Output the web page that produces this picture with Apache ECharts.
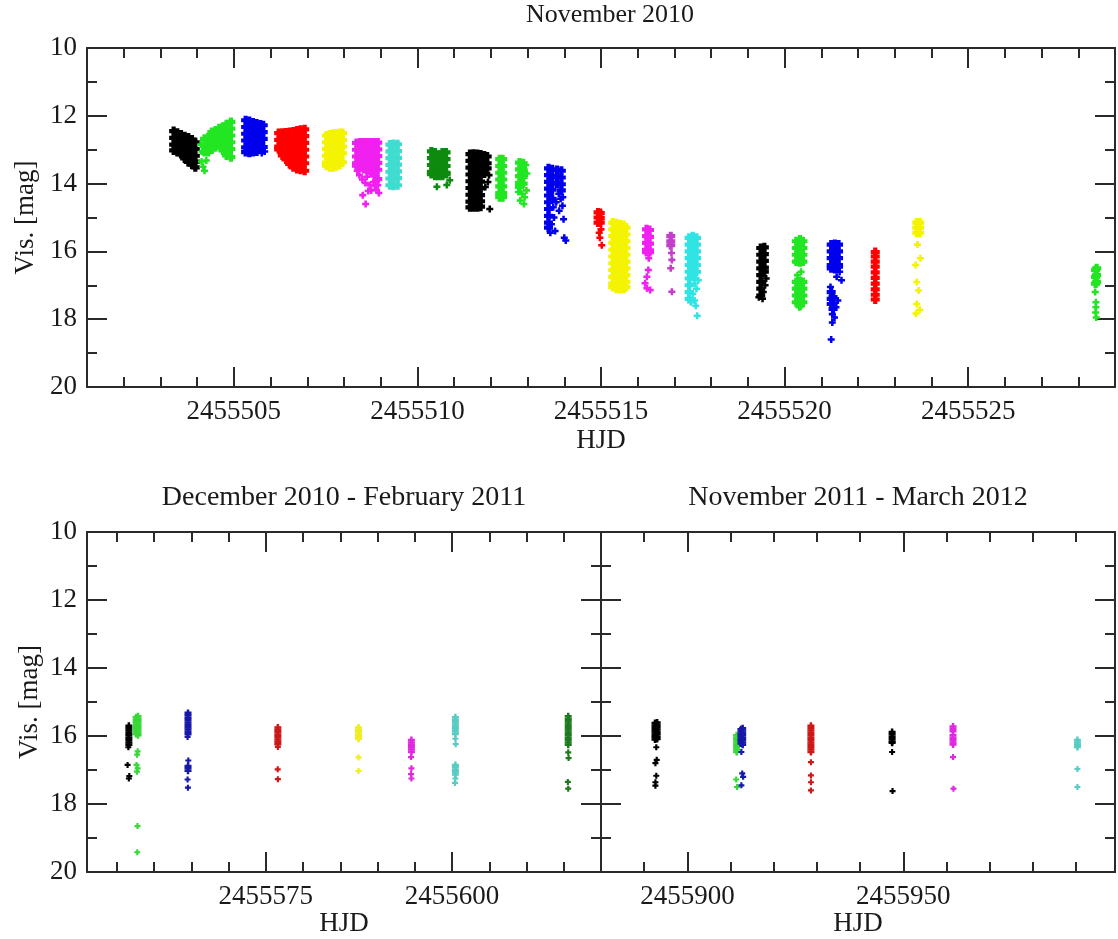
<!DOCTYPE html>
<html><head><meta charset="utf-8">
<script src="https://cdn.jsdelivr.net/npm/echarts@6/dist/echarts.min.js"></script>
<style>html,body{margin:0;padding:0;background:#fff}#c{width:1118px;height:939px}</style>
</head><body><div id="c"></div>
<script>
// ---------------- data (HJD offsets from 2455500, magnitudes) ----------------
const HJD0 = 2455500;
const novRange = [2455501, 2455529];
const decRange = [2455551, 2455620];
const n11Range = [2455880, 2455999];
const magRange = [10, 20];
const novMajor = [2455505, 2455510, 2455515, 2455520, 2455525];
const novMinor = [2455502,2455503,2455504,2455506,2455507,2455508,2455509,2455511,2455512,2455513,2455514,2455516,2455517,2455518,2455519,2455521,2455522,2455523,2455524,2455526,2455527,2455528];
const decMajor = [2455575, 2455600];
const decMinor = [2455555,2455560,2455565,2455570,2455580,2455585,2455590,2455595,2455605,2455610,2455615];
const n11Major = [2455900, 2455950];
const n11Minor = [2455890,2455910,2455920,2455930,2455940,2455960,2455970,2455980,2455990];
const magMajor = [10, 12, 14, 16, 18, 20];
const magMinor = [11, 13, 15, 17, 19];

// November 2010: columns [t, mag, mag, ...]  and single points [t, mag]
const nov_k1 = [[3.36,12.45,12.65,12.85,13.02],[3.46,12.5,12.7,12.9,13.07],[3.56,12.55,12.75,12.95,13.13],[3.66,12.6,12.8,13.0,13.15,13.26],[3.76,12.64,12.84,13.04,13.2,13.36],[3.86,12.7,12.9,13.1,13.28,13.44],[3.95,12.78,12.98,13.18,13.35,13.52]];
const nov_g1 = [[4.20,12.68,12.88,13.07],[4.30,12.63,12.83,13.07],[4.40,12.48,12.68,12.84,12.99],[4.50,12.43,12.63,12.8,12.92],[4.60,12.37,12.57,12.72,12.87],[4.70,12.33,12.53,12.73,12.9,13.02],[4.80,12.25,12.45,12.65,12.85,13.02,13.17],[4.92,12.18,12.38,12.58,12.78,12.98,13.22]];
const nov_g1_o = [[4.12,13.35],[4.16,13.5],[4.2,13.62],[4.1,12.85],[4.25,13.32],[4.13,13.05]];
const nov_b1 = [[5.32,12.13,12.33,12.53,12.73,12.93,13.07],[5.42,12.15,12.35,12.55,12.75,12.95,13.09],[5.52,12.2,12.4,12.6,12.8,13.0,13.07],[5.62,12.23,12.43,12.63,12.83,13.05],[5.72,12.26,12.46,12.66,12.86,12.99],[5.80,12.28,12.48,12.68,12.92]];
const nov_b1_o = [[5.84,13.05],[5.76,13.1]];
const nov_r1 = [[6.22,12.51,12.71,12.91,12.99],[6.32,12.5,12.7,12.9,13.1,13.17],[6.42,12.49,12.69,12.89,13.09,13.29],[6.52,12.48,12.68,12.88,13.08,13.28,13.42],[6.62,12.46,12.66,12.86,13.06,13.26,13.52],[6.72,12.43,12.63,12.83,13.03,13.23,13.43,13.57],[6.82,12.41,12.61,12.81,13.01,13.21,13.41,13.59],[6.93,12.4,12.6,12.8,13.0,13.2,13.4,13.62]];
const nov_y1 = [[7.52,12.58,12.78,12.98,13.18,13.38,13.47],[7.61,12.55,12.75,12.95,13.15,13.35,13.52],[7.70,12.53,12.73,12.93,13.13,13.33,13.52],[7.79,12.53,12.73,12.93,13.13,13.33,13.49],[7.88,12.51,12.71,12.91,13.11,13.31,13.45],[7.96,12.51,12.71,12.91,13.11,13.37]];
const nov_m1 = [[8.34,12.8,13.0,13.2,13.4,13.47],[8.44,12.79,12.99,13.19,13.39,13.52],[8.54,12.79,12.99,13.19,13.39,13.57],[8.64,12.79,12.99,13.19,13.39,13.62],[8.74,12.79,12.99,13.19,13.39,13.59,13.67],[8.84,12.79,12.99,13.19,13.39,13.59,13.77],[8.92,12.79,12.99,13.19,13.39,13.59,13.87]];
const nov_m1_o = [[8.42,13.75],[8.36,13.62],[8.5,13.88],[8.62,13.8],[8.58,13.98],[8.7,14.05],[8.8,13.95],[8.88,14.18],[8.95,14.28],[8.74,14.2],[8.84,14.06],[8.51,14.34],[8.59,14.6],[8.92,14.05],[8.66,14.22]];
const nov_c1 = [[9.25,12.85,13.05,13.25,13.45,13.65,13.85,14.05],[9.35,12.83,13.03,13.23,13.43,13.63,13.83,14.06],[9.46,12.84,13.04,13.24,13.44,13.64,13.84,14.05]];
const nov_d1 = [[10.38,13.05,13.25,13.45,13.65,13.72],[10.48,13.08,13.28,13.48,13.68,13.77],[10.58,13.18,13.38,13.58,13.77],[10.68,13.08,13.28,13.48,13.68,13.77],[10.78,13.08,13.28,13.48,13.68,13.72]];
const nov_d1_o = [[10.53,14.09],[10.8,14.04],[10.88,13.9]];
const nov_k2 = [[11.43,13.13,13.33,13.53,13.73,13.93,14.13,14.33,14.53,14.7],[11.53,13.12,13.32,13.52,13.72,13.92,14.12,14.32,14.52,14.7],[11.63,13.13,13.33,13.53,13.73,13.93,14.13,14.33,14.53,14.7],[11.72,13.14,13.34,13.54,13.74,13.94,14.14,14.34,14.52,14.68],[11.82,13.17,13.37,13.57,13.7],[11.90,13.2,13.4,13.55]];
const nov_k2_o = [[11.95,13.75],[11.92,13.95],[11.97,14.75],[11.85,14.1]];
const nov_g2 = [[12.24,13.28,13.48,13.68,13.88,14.08,14.28,14.4],[12.32,13.28,13.48,13.68,13.88,14.08,14.28,14.4]];
const nov_g3 = [[12.78,13.38,13.58,13.78,13.98,14.1],[12.88,13.4,13.6,13.8,14.0]];
const nov_g3_o = [[12.95,13.45],[12.98,13.7],[12.75,14.25],[12.85,14.3],[12.92,14.4],[12.8,14.5],[12.9,14.6],[12.97,14.2]];
const nov_b2 = [[13.57,13.55,13.75,13.95,14.15,14.35,14.55,14.75,14.95,15.15,15.3],[13.67,13.58,13.78,13.98,14.18,14.45],[13.80,13.6,13.8,14.0],[13.92,13.62,13.82,14.02,14.2]];
const nov_b2_o = [[13.7,14.7],[13.78,14.55],[13.85,14.3],[13.9,14.45],[13.95,14.65],[13.86,14.8],[13.72,15.0],[13.98,15.05],[13.65,15.2],[13.75,15.4],[13.62,15.45],[14.0,15.6],[14.04,15.68],[13.96,14.4]];
const nov_r2 = [[14.92,14.85,15.0,15.15],[14.98,14.87,15.02,15.15]];
const nov_r2_o = [[15.0,15.35],[14.95,15.45],[14.97,15.6],[15.02,15.82]];
const nov_y2 = [[15.32,15.15,15.35,15.55,15.75,15.95,16.15,16.35,16.55,16.75,16.95,17.05],[15.42,15.17,15.37,15.57,15.77,15.97,16.17,16.37,16.57,16.77,16.97,17.1],[15.52,15.2,15.4,15.6,15.8,16.0,16.2,16.4,16.6,16.8,17.0,17.11],[15.62,15.22,15.42,15.62,15.82,16.02,16.22,16.42,16.62,16.82,17.02,17.1],[15.68,15.3,15.5,15.7,15.9,16.1,16.3,16.5,16.7,16.9,17.05]];
const nov_m2 = [[16.24,15.35,15.55,15.75,15.95,16.02],[16.32,15.37,15.57,15.77,15.97,16.02]];
const nov_m2_o = [[16.29,16.55],[16.25,16.75],[16.2,16.94],[16.25,17.09],[16.34,17.14],[16.3,16.2]];
const nov_v1 = [[16.9,15.55,15.7,15.82]];
const nov_v1_o = [[16.92,16.05],[16.93,16.25],[16.9,16.5],[16.93,17.19]];
const nov_c2 = [[17.4,15.6,15.8,16.0,16.2,16.4,16.6,16.8,17.0,17.2,17.4],[17.5,15.55,15.75,15.95,16.15,16.35,16.55,16.75],[17.6,15.6,15.8,16.0,16.2,16.4,16.6]];
const nov_c2_o = [[17.55,16.95],[17.6,17.1],[17.5,17.25],[17.55,17.45],[17.58,17.6],[17.62,17.9],[17.45,17.5],[17.65,16.85]];
const nov_k3 = [[19.35,15.9,16.1,16.3,16.5,16.7,16.9,17.1,17.3],[19.45,15.88,16.08,16.28,16.48,16.6]];
const nov_k3_o = [[19.5,16.8],[19.47,17.0],[19.42,17.2],[19.3,17.35],[19.4,17.4]];
const nov_g4 = [[20.32,15.7,15.9,16.1,16.3,16.9,17.1,17.3,17.5],[20.42,15.65,15.85,16.05,16.25,16.32,16.88,17.08,17.28,17.48,17.6],[20.5,15.7,15.9,16.1,16.3,16.9,17.1,17.3,17.5]];
const nov_g4_o = [[20.45,16.6],[20.35,16.7],[20.4,17.65]];
const nov_b3 = [[21.27,15.8,16.0,16.2,16.4,16.5,17.2,17.4,17.55],[21.37,15.78,15.98,16.18,16.38,16.52],[21.47,15.8,16.0,16.2,16.4,16.45],[21.32,17.35,17.55,17.7]];
const nov_b3_o = [[21.5,16.6],[21.55,16.85],[21.42,16.75],[21.25,17.05],[21.3,17.85],[21.36,17.95],[21.3,18.1],[21.27,18.6],[21.4,17.65],[21.45,17.45]];
const nov_r3 = [[22.47,16.02,16.15,16.3,16.45,16.62,16.78,16.95,17.12,17.28,17.42]];
const nov_y3 = [[23.6,15.15,15.3,15.45],[23.68,15.15,15.3,15.45]];
const nov_y3_o = [[23.62,15.8],[23.7,16.2],[23.57,16.4],[23.6,16.9],[23.65,17.15],[23.6,17.55],[23.68,17.72],[23.58,17.83]];
const nov_g5 = [[28.47,16.55,16.75,16.95],[28.5,16.5,16.7,16.9]];
const nov_g5_o = [[28.48,17.5],[28.48,17.65],[28.47,17.8],[28.49,17.95],[28.46,17.2]];

// December 2010 - February 2011
const dec_k = [[56.62,15.7,15.77,15.84,15.91,15.98,16.05,16.12,16.19,16.26]];
const dec_k_o = [[56.55,16.33],[56.45,16.85],[56.68,17.18],[56.62,17.25]];
const dec_g = [[57.6,15.45,15.52,15.59,15.66,15.73,15.8,15.87,15.94],[57.85,15.42,15.49,15.56,15.63,15.7,15.77,15.84,15.91,15.98]];
const dec_g_o = [[57.8,16.45],[57.72,16.55],[57.65,16.85],[57.8,16.95],[57.7,17.05],[57.78,18.65],[57.75,19.42]];
const dec_b = [[64.56,15.32,15.39,15.46,15.53,15.6,15.67,15.74,15.81,15.88,15.95],[64.56,16.88,16.95,17.02]];
const dec_b_o = [[64.5,16.03],[64.6,16.72],[64.5,17.28],[64.55,17.52]];
const dec_r = [[76.62,15.75,15.82,15.89,15.96,16.03,16.1,16.17,16.24]];
const dec_r_o = [[76.62,16.32],[76.6,16.98],[76.62,17.27]];
const dec_y = [[87.45,15.75,15.82,15.89,15.96,16.03,16.08]];
const dec_y_o = [[87.45,16.63],[87.45,17.03]];
const dec_m = [[94.55,16.12,16.19,16.26,16.33,16.4,16.47]];
const dec_m_o = [[94.5,16.62],[94.55,16.95],[94.5,17.12],[94.55,17.25]];
const dec_c = [[100.45,15.45,15.52,15.59,15.66,15.73,15.8,15.87,15.94],[100.45,16.85,16.92,16.99,17.06,17.13]];
const dec_c_o = [[100.45,16.08],[100.5,16.24],[100.45,17.25],[100.4,17.38]];
const dec_d = [[115.6,15.42,15.49,15.56,15.63,15.7,15.77,15.84,15.91,15.98,16.05,16.12,16.19,16.26]];
const dec_d_o = [[115.6,16.48],[115.65,16.65],[115.55,17.35],[115.6,17.55]];

// November 2011 - March 2012
const n11_k = [[392.5,15.62,15.69,15.76,15.83,15.9,15.97,16.04,16.1],[393.0,15.6,15.67,15.74,15.81,15.88,15.95,16.02,16.09]];
const n11_k_o = [[392.8,16.33],[392.9,16.7],[392.6,16.8],[392.8,17.17],[392.6,17.36],[392.6,17.46]];
const n11_g = [[411.4,15.98,16.05,16.12,16.19,16.26,16.33,16.4,16.47]];
const n11_g_o = [[411.3,17.28],[411.5,17.5]];
const n11_b = [[412.4,15.8,15.87,15.94,16.01,16.08,16.15,16.22],[412.8,15.77,15.84,15.91,15.98,16.05,16.12,16.19,16.26]];
const n11_b_o = [[412.5,16.47],[412.7,17.1],[412.9,17.2],[412.5,17.45]];
const n11_r = [[428.6,15.7,15.77,15.84,15.91,15.98,16.05,16.12,16.19,16.26,16.33,16.4,16.47]];
const n11_r_o = [[428.6,16.77],[428.6,17.16],[428.6,17.36],[428.6,17.6]];
const n11_k2 = [[447.4,15.88,15.95,16.02,16.09,16.16,16.2]];
const n11_k2_o = [[447.4,16.47],[447.5,17.62]];
const n11_m = [[461.5,15.72,15.79,15.86,15.98,16.05,16.12,16.19,16.25]];
const n11_m_o = [[461.5,16.62],[461.6,17.55]];
const n11_c = [[490.3,16.12,16.19,16.26,16.32]];
const n11_c_o = [[490.3,16.97],[490.3,17.5]];

// ---------------- styles ----------------
const FONT = "'Liberation Serif','DejaVu Serif',serif";
const TXT = '#1a1a1a';
const AX = '#2a2a2a';
const C = {k:'#000000', g:'#22e622', b:'#0000ee', r:'#ff0000', y:'#f4f400', m:'#f020f0', v:'#c040c8', t:'#40dcd0', c:'#30e4e4', d:'#0e8a0e',
           G:'#38d838', B:'#1818a8', R:'#cc1818', Y:'#eeee20', M:'#e028e0', T:'#58ccc4', D:'#1f7a1f'};
const PLUS = 'path://M0,3.2H3.2V0H6.8V3.2H10V6.8H6.8V10H3.2V6.8H0Z';
const PLUS_BOLD = 'path://M0,2.7H2.7V0H7.3V2.7H10V7.3H7.3V10H2.7V7.3H0Z';

// series table: [panel, columns, singles, colour key]
const clusters = [
  [0,nov_k1,null,'k'],[0,nov_g1,nov_g1_o,'g'],[0,nov_b1,nov_b1_o,'b'],[0,nov_r1,null,'r'],[0,nov_y1,null,'y'],
  [0,nov_m1,nov_m1_o,'m'],[0,nov_c1,null,'t'],[0,nov_d1,nov_d1_o,'d'],[0,nov_k2,nov_k2_o,'k'],[0,nov_g2,null,'g'],
  [0,nov_g3,nov_g3_o,'g'],[0,nov_b2,nov_b2_o,'b'],[0,nov_r2,nov_r2_o,'r'],[0,nov_y2,null,'y'],[0,nov_m2,nov_m2_o,'m'],
  [0,nov_v1,nov_v1_o,'v'],[0,nov_c2,nov_c2_o,'c'],[0,nov_k3,nov_k3_o,'k'],[0,nov_g4,nov_g4_o,'g'],[0,nov_b3,nov_b3_o,'b'],
  [0,nov_r3,null,'r'],[0,nov_y3,nov_y3_o,'y'],[0,nov_g5,nov_g5_o,'g'],
  [1,dec_k,dec_k_o,'k'],[1,dec_g,dec_g_o,'G'],[1,dec_b,dec_b_o,'B'],[1,dec_r,dec_r_o,'R'],[1,dec_y,dec_y_o,'Y'],
  [1,dec_m,dec_m_o,'M'],[1,dec_c,dec_c_o,'T'],[1,dec_d,dec_d_o,'D'],
  [2,n11_k,n11_k_o,'k'],[2,n11_g,n11_g_o,'G'],[2,n11_b,n11_b_o,'B'],[2,n11_r,n11_r_o,'R'],[2,n11_k2,n11_k2_o,'k'],
  [2,n11_m,n11_m_o,'M'],[2,n11_c,n11_c_o,'T']
];

function fromColumns(cols){ const out=[]; cols.forEach(c=>{ for(let i=1;i<c.length;i++) out.push([HJD0+c[0], c[i]]); }); return out; }
function fromPairs(p){ return p.map(q=>[HJD0+q[0], q[1]]); }

const tickStyle = {color:AX, width:2};
const labelStyle = {fontFamily:FONT, fontSize:27, color:TXT};
function xSet(grid, range, major, minor, name, nameGap){
  const base = {type:'value', gridIndex:grid, min:range[0], max:range[1], splitLine:{show:false}, axisPointer:{show:false}, silent:true};
  return [
    Object.assign({}, base, {position:'bottom', axisLine:{show:true,onZero:false,lineStyle:tickStyle},
      axisTick:{show:true,inside:true,length:20,customValues:major,lineStyle:tickStyle},
      axisLabel:Object.assign({show:true,customValues:major,margin:11,formatter:v=>String(v)},labelStyle),
      name:name, nameLocation:'middle', nameGap:nameGap, nameTextStyle:{fontFamily:FONT,fontSize:27,color:TXT}}),
    Object.assign({}, base, {position:'bottom', axisLine:{show:false}, axisTick:{show:true,inside:true,length:10,customValues:minor,lineStyle:tickStyle}, axisLabel:{show:false}}),
    Object.assign({}, base, {position:'top', axisLine:{show:true,onZero:false,lineStyle:tickStyle}, axisTick:{show:true,inside:true,length:20,customValues:major,lineStyle:tickStyle}, axisLabel:{show:false}}),
    Object.assign({}, base, {position:'top', axisLine:{show:false}, axisTick:{show:true,inside:true,length:10,customValues:minor,lineStyle:tickStyle}, axisLabel:{show:false}})
  ];
}
function ySet(grid, withLabels){
  const base = {type:'value', gridIndex:grid, min:magRange[0], max:magRange[1], inverse:true, splitLine:{show:false}, axisPointer:{show:false}, silent:true};
  return [
    Object.assign({}, base, {position:'left', axisLine:{show:true,onZero:false,lineStyle:tickStyle},
      axisTick:{show:true,inside:true,length:20,customValues:magMajor,lineStyle:tickStyle},
      axisLabel:Object.assign({show:withLabels,customValues:magMajor,margin:10,formatter:v=>String(v)},labelStyle),
      name: withLabels ? 'Vis. [mag]' : '', nameLocation:'middle', nameGap:44, nameTextStyle:{fontFamily:FONT,fontSize:27,color:TXT}}),
    Object.assign({}, base, {position:'left', axisLine:{show:false}, axisTick:{show:true,inside:true,length:10,customValues:magMinor,lineStyle:tickStyle}, axisLabel:{show:false}}),
    Object.assign({}, base, {position:'right', axisLine:{show:true,onZero:false,lineStyle:tickStyle}, axisTick:{show:true,inside:true,length:20,customValues:magMajor,lineStyle:tickStyle}, axisLabel:{show:false}}),
    Object.assign({}, base, {position:'right', axisLine:{show:false}, axisTick:{show:true,inside:true,length:10,customValues:magMinor,lineStyle:tickStyle}, axisLabel:{show:false}})
  ];
}

const xAxis = [].concat(
  xSet(0, novRange, novMajor, novMinor, 'HJD', 40),
  xSet(1, decRange, decMajor, decMinor, 'HJD', 37),
  xSet(2, n11Range, n11Major, n11Minor, 'HJD', 37));
const yAxis = [].concat(ySet(0,true), ySet(1,true), ySet(2,false));

const series = [];
clusters.forEach(cl=>{
  const [p, cols, singles, ck] = cl;
  const big = p === 0;
  const common = {type:'scatter', xAxisIndex:p*4, yAxisIndex:p*4, silent:true, animation:false,
    emphasis:{disabled:true}, itemStyle:{color:C[ck], opacity:1}, clip:true};
  series.push(Object.assign({}, common, {data:fromColumns(cols), symbol: big ? PLUS_BOLD : PLUS, symbolSize: big ? 9 : 7}));
  if (singles) series.push(Object.assign({}, common, {data:fromPairs(singles), symbol:PLUS, symbolSize: big ? 7 : 6}));
});

const chart = echarts.init(document.getElementById('c'), null, {renderer:'canvas'});
chart.setOption({
  backgroundColor:'#ffffff',
  animation:false,
  grid:[
    {left:87, top:48, width:1028, height:339, containLabel:false, outerBoundsMode:'none'},
    {left:87, top:532, width:514, height:340, containLabel:false, outerBoundsMode:'none'},
    {left:601, top:532, width:514, height:340, containLabel:false, outerBoundsMode:'none'}
  ],
  xAxis: xAxis,
  yAxis: yAxis,
  graphic:[
    {type:'text', x:610, y:15, silent:true, style:{text:'November 2010', font:"26px 'Liberation Serif'", fill:TXT, align:'center', verticalAlign:'middle'}},
    {type:'text', x:344, y:498, silent:true, style:{text:'December 2010 - February 2011', font:"28px 'Liberation Serif'", fill:TXT, align:'center', verticalAlign:'middle'}},
    {type:'text', x:858, y:498, silent:true, style:{text:'November 2011 - March 2012', font:"28px 'Liberation Serif'", fill:TXT, align:'center', verticalAlign:'middle'}}
  ],
  series: series
});
</script>
</body></html>
